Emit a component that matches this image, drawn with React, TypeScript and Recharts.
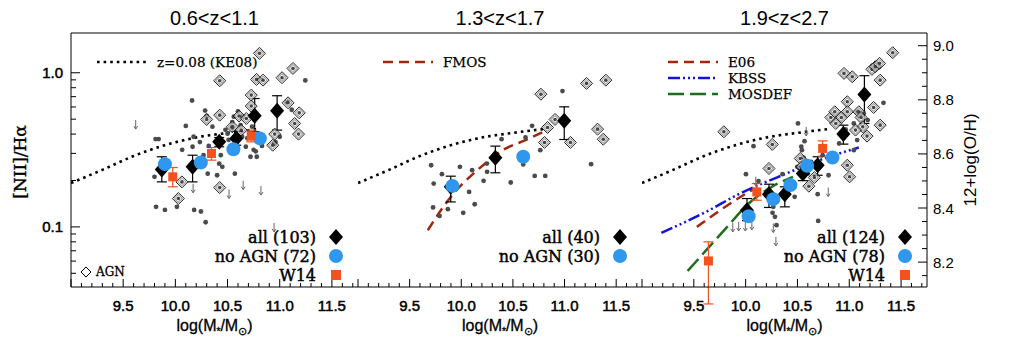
import React from 'react';
import { ComposedChart, Scatter, Line, XAxis, YAxis, ErrorBar } from 'recharts';

// x: log(M*/Msun), y: log10([NII]/Halpha)
const MASS_DOMAIN: [number, number] = [9.0, 11.75];
const N2_DOMAIN: [number, number] = [-1.39, 0.258];
const OH_DOMAIN: [number, number] = [8.108, 9.047];

const MASS_TICKS = [9.0, 9.1, 9.2, 9.3, 9.4, 9.5, 9.6, 9.7, 9.8, 9.9, 10.0, 10.1, 10.2, 10.3, 10.4, 10.5, 10.6, 10.7, 10.8, 10.9, 11.0, 11.1, 11.2, 11.3, 11.4, 11.5, 11.6, 11.7];
const MASS_LABELS = [9.5, 10.0, 10.5, 11.0, 11.5];
const N2_TICKS = [-1.301, -1.222, -1.155, -1.097, -1.046, -1, -0.699, -0.523, -0.398, -0.301, -0.222, -0.155, -0.097, -0.046, 0];
const N2_LABELS: [number, string][] = [[-1, '0.1'], [0, '1.0']];
const OH_TICKS = [8.15, 8.2, 8.25, 8.3, 8.35, 8.4, 8.45, 8.5, 8.55, 8.6, 8.65, 8.7, 8.75, 8.8, 8.85, 8.9, 8.95, 9.0];
const OH_LABELS = [8.2, 8.4, 8.6, 8.8, 9.0];

const TITLES = ['0.6<z<1.1', '1.3<z<1.7', '1.9<z<2.7'];

const KE08 = [[9.0, -0.715], [9.3, -0.63], [9.6, -0.54], [9.9, -0.47], [10.2, -0.42], [10.5, -0.39], [10.8, -0.365]];
const FMOS = [[9.676, -1.022], [9.803, -0.892], [9.924, -0.784], [10.083, -0.675], [10.241, -0.584], [10.4, -0.502], [10.622, -0.437], [10.829, -0.372]];
const E06 = [[9.53, -1.0], [9.71, -0.913], [9.9, -0.827], [10.09, -0.75]];
const KBSS = [[9.187, -1.039], [9.616, -0.903], [9.933, -0.788], [10.378, -0.658], [10.759, -0.556], [11.092, -0.485]];
const MOSDEF = [[9.441, -1.286], [9.648, -1.13], [9.822, -1.0], [10.029, -0.848], [10.251, -0.74], [10.457, -0.675]];

// panel 1
const P1_DOTS = [[9.81, -0.43], [9.84, -0.43], [9.8, -0.675], [9.815, -0.87], [9.9, -0.89], [10.015, -0.87], [10.1, -0.345], [10.065, -0.5], [10.16, -0.18], [10.16, -0.59], [10.165, -0.48], [10.175, -0.415], [10.18, -0.89], [10.245, -0.9], [10.27, -0.535], [10.285, -0.245], [10.29, -0.97], [10.3, -0.28], [10.31, -0.655], [10.32, -0.475], [10.355, -0.35], [10.4, -0.665], [10.42, -0.59], [10.435, -0.535], [10.45, -0.61], [10.48, -0.37], [10.5, -0.395], [10.545, -0.32], [10.545, -0.355], [10.56, -0.285], [10.57, -0.655], [10.6, -0.25], [10.625, -0.34], [10.64, -0.415], [10.675, -0.48], [10.69, -0.425], [10.72, -0.545], [10.735, -0.35], [10.75, -0.5], [10.77, -0.51], [10.78, -0.545], [10.83, -0.475], [10.945, -0.46], [10.96, -0.45], [11.0, -0.415], [11.07, -0.19], [11.115, -0.24], [11.245, -0.05], [10.51, -0.435], [10.235, -0.45], [10.64, -0.285], [10.745, -0.28]];
const P1_AGN = [[10.063, -0.708], [10.029, -0.816], [10.425, -0.052], [10.425, -0.275], [10.425, -0.745], [10.3, -0.303], [10.546, -0.351], [10.61, -0.281], [10.63, -0.372], [10.68, -0.297], [10.727, -0.145], [10.727, -0.216], [10.806, 0.126], [10.778, -0.043], [10.84, -0.048], [10.933, -0.47], [10.952, -0.398], [11.022, -0.032], [11.08, -0.195], [11.127, 0.028], [11.143, -0.329], [11.18, -0.398], [11.187, -0.26]];
const P1_LIMITS = [[9.62, -0.307], [10.17, -0.72], [10.514, -0.757], [10.65, -0.7], [10.82, -0.735], [10.946, -0.974]];
const P1_ALL = [[9.87, -0.628, -0.708, -0.545], [10.165, -0.61, -0.708, -0.535], [10.42, -0.448, -0.48, -0.42], [10.584, -0.426, -0.47, -0.38], [10.76, -0.279, -0.383, -0.167], [10.975, -0.247, -0.372, -0.149]];
const P1_NOAGN = [[9.9, -0.593], [10.244, -0.582], [10.556, -0.496], [10.81, -0.426]];
const P1_W14 = [[9.975, -0.675, -0.74, -0.615], [10.346, -0.524, -0.567, -0.485], [10.727, -0.411, -0.448, -0.372]];

// panel 2
const P2_DOTS = [[9.708, -0.6], [9.733, -0.719], [9.727, -0.874], [9.79, -0.929], [9.813, -0.658], [9.87, -0.885], [9.987, -0.61], [10.019, -0.909], [10.076, -0.773], [10.105, -0.632], [10.13, -0.853], [10.216, -0.701], [10.248, -0.589], [10.25, -0.643], [10.39, -0.431], [10.479, -0.712], [10.6, -0.595], [10.622, -0.42], [10.686, -0.344], [10.711, -0.669], [10.765, -0.502], [10.813, -0.669], [10.98, -0.119], [11.257, -0.593]];
const P2_AGN = [[10.771, -0.139], [10.835, -0.355], [10.806, -0.452], [10.908, -0.303], [11.057, -0.452], [11.213, -0.069], [11.4, -0.048], [11.32, -0.366], [11.375, -0.431]];
const P2_ALL = [[9.898, -0.74, -0.838, -0.671], [10.33, -0.552, -0.649, -0.476], [10.997, -0.312, -0.433, -0.221]];
const P2_NOAGN = [[9.914, -0.734], [10.6, -0.545]];

// panel 3
const P3_DOTS = [[10.003, -0.658], [10.076, -0.476], [10.124, -0.703], [10.26, -0.909], [10.267, -0.87], [10.283, -0.935], [10.298, -0.989], [10.356, -0.658], [10.457, -0.74], [10.505, -0.329], [10.473, -0.805], [10.568, -0.444], [10.537, -0.48], [10.543, -0.502], [10.559, -0.55], [10.498, -0.61], [10.6, -0.654], [10.695, -0.788], [10.7, -0.961], [10.743, -0.535], [10.8, -0.665], [10.854, -0.563], [10.902, -0.459], [10.965, -0.368], [11.044, -0.329], [11.076, -0.437], [11.14, -0.264], [11.178, -0.307], [11.33, -0.195], [11.076, -0.253], [11.044, -0.502], [10.568, -0.621], [10.632, -0.578], [10.425, -0.719]];
const P3_AGN = [[9.79, -0.383], [10.257, -0.465], [10.225, -0.621], [10.527, -0.556], [10.543, -0.61], [10.61, -0.736], [10.663, -0.68], [10.822, -0.29], [10.86, -0.253], [10.87, -0.329], [10.924, -0.29], [10.949, -0.004], [11.029, -0.026], [10.981, -0.188], [10.981, -0.253], [10.981, -0.6], [11.003, -0.675], [11.092, -0.253], [11.114, -0.29], [11.13, -0.351], [11.171, -0.411], [11.235, -0.225], [11.219, 0.022], [11.251, 0.039], [11.292, 0.061], [11.298, -0.048], [11.298, -0.34], [11.419, 0.13], [11.06, -0.372]];
const P3_LIMITS = [[9.876, -0.974], [9.933, -0.968], [9.997, -0.968], [10.06, -0.961], [10.267, -0.978], [10.292, -1.065], [10.098, -0.675], [10.584, -0.351], [10.797, -0.745]];
const P3_ALL = [[10.013, -0.892, -0.96, -0.816], [10.225, -0.788, -0.874, -0.723], [10.378, -0.788, -0.87, -0.74], [10.552, -0.654, -0.7, -0.61], [10.695, -0.6, -0.665, -0.545], [10.943, -0.398, -0.463, -0.34], [11.146, -0.141, -0.329, -0.019]];
const P3_NOAGN = [[10.029, -0.931], [10.267, -0.82], [10.432, -0.729], [10.594, -0.604], [10.838, -0.55]];
const P3_W14 = [[9.641, -1.221, -1.5, -1.097], [10.108, -0.773, -0.827, -0.719], [10.743, -0.491, -0.541, -0.442]];

const BLUE = '#2f97ee';
const ORANGE = '#f4521c';
const BROWN = '#a3260c';
const KBSS_BLUE = '#1414d8';
const GREEN = '#1c6e1c';
const SANS = '"Liberation Sans", Arial, sans-serif';
const SERIF = '"DejaVu Serif", serif';

const pts = (a: number[][]) => a.map(([x, y]) => ({ x, y }));
const bins = (a: number[][]) => a.map(([x, y, lo, hi]) => ({ x, y, err: [y - lo, hi - y] }));
const isHalf = (v: number) => Math.abs(v * 2 - Math.round(v * 2)) < 1e-6;
const diamond = (cx: number, cy: number, w: number, h: number) =>
  `M${cx},${cy - h}L${cx + w},${cy}L${cx},${cy + h}L${cx - w},${cy}Z`;

const GrayDot = (p: any) => <circle cx={p.cx} cy={p.cy} r={2.4} fill="#4b4b4b" />;
const AgnMark = (p: any) => (
  <g>
    <path d={diamond(p.cx, p.cy, 6, 6)} fill="none" stroke="#222" strokeWidth={1} />
    <path d={diamond(p.cx, p.cy, 4, 4)} fill="none" stroke="#aaa" strokeWidth={1.3} />
    <circle cx={p.cx} cy={p.cy} r={1.8} fill="#444" />
  </g>
);
const LimitMark = (p: any) => (
  <g stroke="#666" strokeWidth={1} fill="none">
    <line x1={p.cx} y1={p.cy} x2={p.cx} y2={p.cy + 9} />
    <path d={`M${p.cx - 2},${p.cy + 6}L${p.cx},${p.cy + 9}L${p.cx + 2},${p.cy + 6}`} />
  </g>
);
const BigDiamond = (p: any) => <path d={diamond(p.cx, p.cy, 7, 8)} fill="#000" />;
const BlueDot = (p: any) => <circle cx={p.cx} cy={p.cy} r={7} fill={BLUE} />;
const OrangeSq = (p: any) => <rect x={p.cx - 4.5} y={p.cy - 4.5} width={9} height={9} fill={ORANGE} />;

const bottomTick = (p: any) => {
  const v = p.payload.value;
  const len = isHalf(v) ? 8 : 4;
  return (
    <g>
      <line x1={p.x} y1={p.y} x2={p.x} y2={p.y - len} stroke="#000" />
      {MASS_LABELS.includes(v) && (
        <text x={p.x} y={p.y + 24} textAnchor="middle" fontSize={15} fontFamily={SANS} fill="#000" stroke="#000" strokeWidth={0.5}>
          {v.toFixed(1)}
        </text>
      )}
    </g>
  );
};
const topTick = (p: any) => {
  const len = isHalf(p.payload.value) ? 8 : 4;
  return <line x1={p.x} y1={p.y} x2={p.x} y2={p.y + len} stroke="#000" />;
};
const leftTick = (labels: boolean) => (p: any) => {
  const v = p.payload.value;
  const lab = N2_LABELS.find((l) => l[0] === v);
  return (
    <g>
      <line x1={p.x} y1={p.y} x2={p.x + (lab ? 9 : 5)} y2={p.y} stroke="#000" />
      {labels && lab && (
        <text x={p.x - 8} y={p.y} textAnchor="end" dominantBaseline="central" fontSize={15} fontFamily={SANS} fill="#000" stroke="#000" strokeWidth={0.5}>
          {lab[1]}
        </text>
      )}
    </g>
  );
};
const rightTick = (p: any) => {
  const v = p.payload.value;
  const major = N2_LABELS.some((l) => l[0] === v);
  return <line x1={p.x} y1={p.y} x2={p.x - (major ? 9 : 5)} y2={p.y} stroke="#000" />;
};
const ohTick = (p: any) => {
  const v = p.payload.value;
  const lab = OH_LABELS.some((l) => Math.abs(l - v) < 1e-6);
  return (
    <g>
      <line x1={p.x} y1={p.y} x2={p.x - (lab ? 9 : 5)} y2={p.y} stroke="#000" />
      {lab && (
        <text x={p.x + 6} y={p.y} dominantBaseline="central" fontSize={15} fontFamily={SANS} fill="#000">
          {v.toFixed(1)}
        </text>
      )}
    </g>
  );
};

type Curve = { data: number[][]; stroke: string; dash: string; width: number };

interface PanelProps {
  left: number;
  width: number;
  mLeft: number;
  mRight: number;
  leftW: number;
  rightW: number;
  labels?: boolean;
  oh?: boolean;
  curves: Curve[];
  dots: number[][];
  agn: number[][];
  limits?: number[][];
  all: number[][];
  noagn: number[][];
  w14?: number[][];
}

function Panel(pr: PanelProps) {
  return (
    <div style={{ position: 'absolute', left: pr.left, top: 0 }}>
      <ComposedChart width={pr.width} height={339} margin={{ top: 32, right: pr.mRight, bottom: 0, left: pr.mLeft }}>
        <XAxis dataKey="x" type="number" domain={MASS_DOMAIN} allowDataOverflow ticks={MASS_TICKS} interval={0}
          tickSize={0} tickMargin={0} tickLine={false} tick={bottomTick} height={52} stroke="#000" />
        <XAxis xAxisId="top" orientation="top" type="number" domain={MASS_DOMAIN} allowDataOverflow ticks={MASS_TICKS}
          interval={0} tickSize={0} tickMargin={0} tickLine={false} tick={topTick} height={1} stroke="#000" />
        <YAxis dataKey="y" type="number" domain={N2_DOMAIN} allowDataOverflow ticks={N2_TICKS} interval={0}
          tickSize={0} tickMargin={0} tickLine={false} tick={leftTick(!!pr.labels)} width={pr.leftW} stroke="#000" />
        {pr.oh ? (
          <YAxis yAxisId="r" orientation="right" type="number" domain={OH_DOMAIN} allowDataOverflow ticks={OH_TICKS}
            interval={0} tickSize={0} tickMargin={0} tickLine={false} tick={ohTick} width={pr.rightW} stroke="#000" />
        ) : (
          <YAxis yAxisId="r" orientation="right" type="number" domain={N2_DOMAIN} allowDataOverflow ticks={N2_TICKS}
            interval={0} tickSize={0} tickMargin={0} tickLine={false} tick={rightTick} width={pr.rightW} stroke="#000" />
        )}
        <Scatter data={pts(pr.dots)} shape={GrayDot} isAnimationActive={false} />
        <Scatter data={pts(pr.agn)} shape={AgnMark} isAnimationActive={false} />
        {pr.limits && <Scatter data={pts(pr.limits)} shape={LimitMark} isAnimationActive={false} />}
        {pr.curves.map((c, i) => (
          <Line key={i} data={pts(c.data)} dataKey="y" type="monotone" dot={false} activeDot={false}
            stroke={c.stroke} strokeWidth={c.width} strokeDasharray={c.dash} isAnimationActive={false} />
        ))}
        <Scatter data={bins(pr.all)} shape={BigDiamond} isAnimationActive={false}>
          <ErrorBar dataKey="err" direction="y" width={5} stroke="#000" strokeWidth={1.2} />
        </Scatter>
        <Scatter data={pts(pr.noagn)} shape={BlueDot} isAnimationActive={false} />
        {pr.w14 && (
          <Scatter data={bins(pr.w14)} shape={OrangeSq} isAnimationActive={false}>
            <ErrorBar dataKey="err" direction="y" width={5} stroke={ORANGE} strokeWidth={1.2} />
          </Scatter>
        )}
      </ComposedChart>
    </div>
  );
}

const KE08_CURVE: Curve = { data: KE08, stroke: '#000', dash: '2.6 4', width: 2.6 };

function MassLabel({ cx }: { cx: number }) {
  return (
    <text x={cx} y={331} textAnchor="middle" fontSize={16} fontFamily={SANS} fill="#000" stroke="#000" strokeWidth={0.3}>
      log(M<tspan fontSize={10} dy={4}>*</tspan><tspan dy={-4}>/M</tspan><tspan fontSize={11} dy={4}>⊙</tspan><tspan dy={-4}>)</tspan>
    </text>
  );
}

function KeyRows({ right, rows }: { right: number; rows: { t: string; m: string }[] }) {
  return (
    <g>
      {rows.map((r, i) => {
        const y = 237 + i * 19;
        const mx = right - 22;
        return (
          <g key={i}>
            <text x={right - 42} y={y} textAnchor="end" dominantBaseline="central" fontSize={16} fontFamily={SERIF} fill="#000" stroke="#000" strokeWidth={0.45}>
              {r.t}
            </text>
            {r.m === 'd' && <path d={diamond(mx, y, 7, 8)} fill="#000" />}
            {r.m === 'c' && <circle cx={mx} cy={y} r={7} fill={BLUE} />}
            {r.m === 's' && <rect x={mx - 5} y={y - 5} width={10} height={10} fill={ORANGE} />}
          </g>
        );
      })}
    </g>
  );
}

function LineKey({ x, y, stroke, dash, width, label }: { x: number; y: number; stroke: string; dash: string; width: number; label: string }) {
  return (
    <g>
      <line x1={x} y1={y} x2={x + 50} y2={y} stroke={stroke} strokeWidth={width} strokeDasharray={dash} />
      <text x={x + 60} y={y} dominantBaseline="central" fontSize={13.5} fontFamily={SERIF} fill="#000" stroke="#000" strokeWidth={0.25}>{label}</text>
    </g>
  );
}

export default function App() {
  const centers = [214.5, 500, 784.5];
  return (
    <div style={{ position: 'absolute', left: 0, top: 0, width: 1019, height: 339, background: '#fff' }}>
      <Panel left={0} width={360} mLeft={0} mRight={2} leftW={71} rightW={0} labels
        curves={[KE08_CURVE]} dots={P1_DOTS} agn={P1_AGN} limits={P1_LIMITS} all={P1_ALL} noagn={P1_NOAGN} w14={P1_W14} />
      <Panel left={357} width={286} mLeft={1} mRight={1} leftW={0} rightW={0}
        curves={[KE08_CURVE, { data: FMOS, stroke: BROWN, dash: '10 6', width: 2.5 }]}
        dots={P2_DOTS} agn={P2_AGN} all={P2_ALL} noagn={P2_NOAGN} />
      <Panel left={641} width={378} mLeft={1} mRight={0} leftW={0} rightW={92} oh
        curves={[KE08_CURVE,
          { data: E06, stroke: BROWN, dash: '10 6', width: 2.5 },
          { data: KBSS, stroke: KBSS_BLUE, dash: '12 3 2 3 2 3 2 3', width: 2.5 },
          { data: MOSDEF, stroke: GREEN, dash: '16 6', width: 2.5 }]}
        dots={P3_DOTS} agn={P3_AGN} limits={P3_LIMITS} all={P3_ALL} noagn={P3_NOAGN} w14={P3_W14} />
      <svg width={1019} height={339} style={{ position: 'absolute', left: 0, top: 0, pointerEvents: 'none' }}>
        {TITLES.map((t, i) => (
          <text key={t} x={centers[i]} y={18} textAnchor="middle" dominantBaseline="central" fontSize={20} fontFamily={SANS} fill="#000">
            {t}
          </text>
        ))}
        {centers.map((c) => <MassLabel key={c} cx={c} />)}
        <text transform="translate(20,162) rotate(-90)" textAnchor="middle" dominantBaseline="central" fontSize={17} fontFamily={SERIF} fill="#000" stroke="#000" strokeWidth={0.4}>
          [NII]/Hα
        </text>
        <text transform="translate(970,160) rotate(-90)" textAnchor="middle" dominantBaseline="central" fontSize={17} fontFamily={SANS} fill="#000">
          12+log(O/H)
        </text>
        <LineKey x={97} y={62} stroke="#000" dash="2.6 4" width={2.6} label="z=0.08 (KE08)" />
        <LineKey x={383} y={62} stroke={BROWN} dash="10 6" width={2.5} label="FMOS" />
        <LineKey x={668} y={62} stroke={BROWN} dash="10 6" width={2.5} label="E06" />
        <LineKey x={668} y={78} stroke={KBSS_BLUE} dash="12 3 2 3 2 3 2 3" width={2.5} label="KBSS" />
        <LineKey x={668} y={94} stroke={GREEN} dash="16 6" width={2.5} label="MOSDEF" />
        <KeyRows right={358} rows={[{ t: 'all (103)', m: 'd' }, { t: 'no AGN (72)', m: 'c' }, { t: 'W14', m: 's' }]} />
        <KeyRows right={642} rows={[{ t: 'all (40)', m: 'd' }, { t: 'no AGN (30)', m: 'c' }]} />
        <KeyRows right={927} rows={[{ t: 'all (124)', m: 'd' }, { t: 'no AGN (78)', m: 'c' }, { t: 'W14', m: 's' }]} />
        <path d={diamond(86, 272, 5, 5)} fill="none" stroke="#000" strokeWidth={1} />
        <text x={96} y={272} dominantBaseline="central" fontSize={12} fontFamily={SERIF} fill="#000" stroke="#000" strokeWidth={0.3}>AGN</text>
      </svg>
    </div>
  );
}
